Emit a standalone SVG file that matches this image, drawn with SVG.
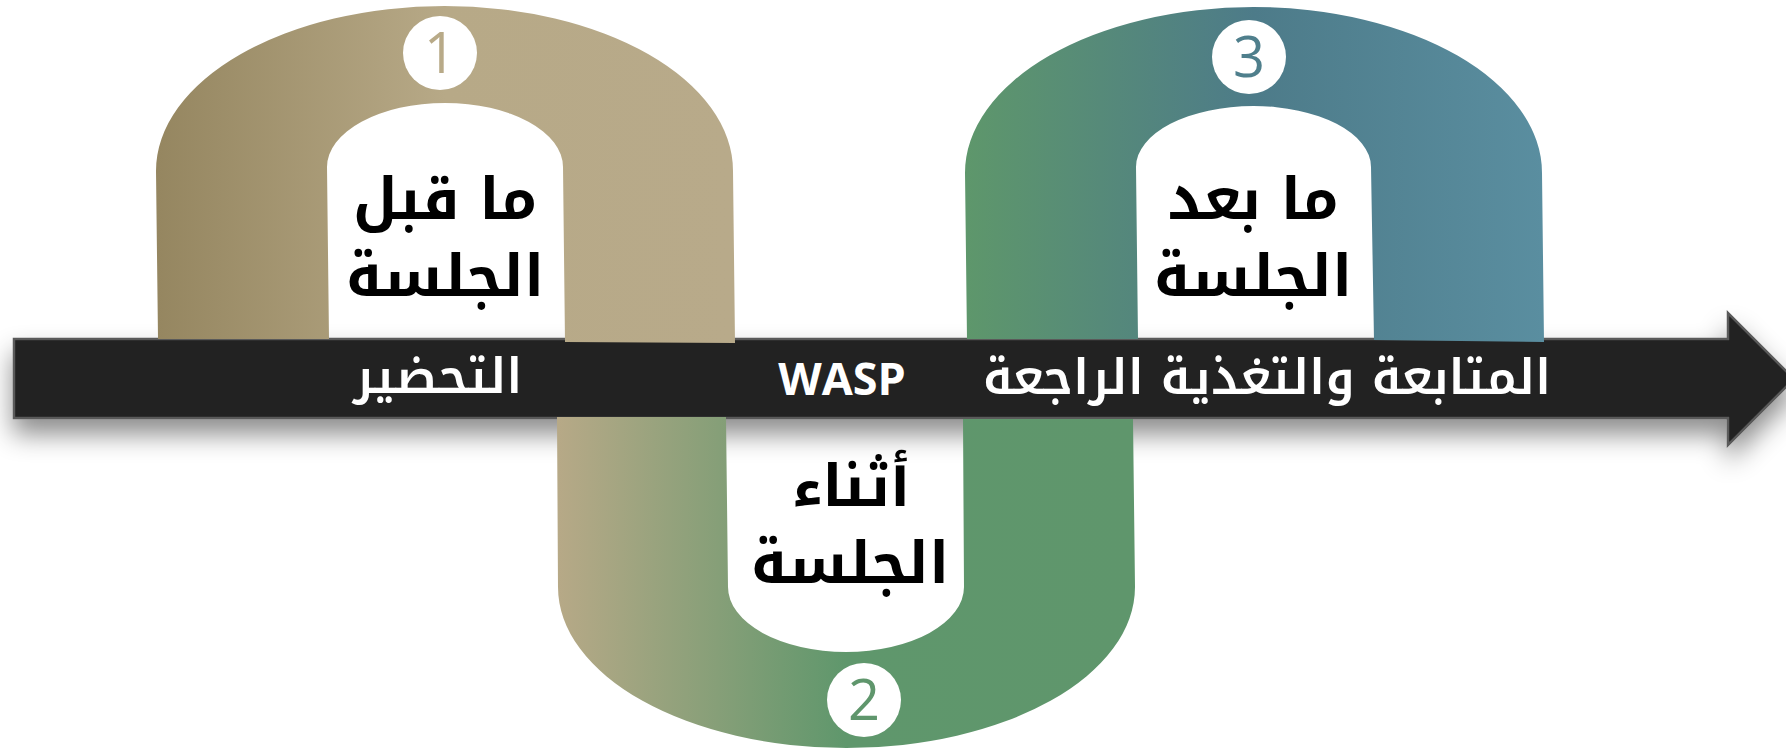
<svg xmlns="http://www.w3.org/2000/svg" width="1786" height="750" viewBox="0 0 1786 750">
  <defs>
    <filter id="shadow" x="-5%" y="-80%" width="110%" height="260%">
      <feDropShadow dx="0" dy="15" stdDeviation="13" flood-color="#000" flood-opacity="0.45"/>
    </filter>
    <linearGradient id="g1" gradientUnits="userSpaceOnUse" x1="156" y1="0" x2="735" y2="0">
      <stop offset="0" stop-color="#958660"/>
      <stop offset="0.5" stop-color="#b7a987"/>
      <stop offset="1" stop-color="#b8aa8a"/>
    </linearGradient>
    <linearGradient id="g2" gradientUnits="userSpaceOnUse" x1="557" y1="0" x2="1135" y2="0">
      <stop offset="0" stop-color="#b7a987"/>
      <stop offset="0.5" stop-color="#5f976c"/>
      <stop offset="1" stop-color="#5f966c"/>
    </linearGradient>
    <linearGradient id="g3" gradientUnits="userSpaceOnUse" x1="965" y1="0" x2="1544" y2="0">
      <stop offset="0" stop-color="#5e976b"/>
      <stop offset="0.5" stop-color="#4d7b89"/>
      <stop offset="1" stop-color="#5a8ea0"/>
    </linearGradient>
    <style>
      .lbl { font-family: "Noto Kufi Arabic", "Noto Sans Arabic", "DejaVu Sans", sans-serif; font-weight: bold; font-size: 58px; fill: #000; text-anchor: middle; }
      .bar { font-family: "Noto Kufi Arabic", "Noto Sans Arabic", "DejaVu Sans", sans-serif; font-weight: 600; font-size: 49px; fill: #fff; text-anchor: middle; }
      .num { font-family: "Open Sans", "Liberation Sans", sans-serif; font-weight: normal; font-size: 56px; text-anchor: middle; }
      .disc { fill: #fff; }
    </style>
  </defs>
  <rect width="1786" height="750" fill="#fff"/>

  <g id="connectors">
    <path d="M14,339 L1728,339 L1728,313 L1794,379 L1728,445 L1728,418 L14,418 Z" fill="#212121" stroke="#5a5a5a" stroke-width="2.5" filter="url(#shadow)"/>
    <text class="bar" x="438" y="393">التحضير</text>
    <text x="842" y="395" font-family="'Open Sans', 'Liberation Sans', sans-serif" font-weight="bold" font-size="45" fill="#fff" text-anchor="middle">WASP</text>
    <text class="bar" x="1267" y="394">المتابعة والتغذية الراجعة</text>
  </g>

  <g id="node-before">
    <path d="M158,339 L156,171 A288.5,165 0 0 1 733,171 L735,343 L565,342 L563,167 A118,64 0 0 0 327,167 L329,339 Z" fill="url(#g1)"/>
    <circle class="disc" cx="440" cy="53" r="37"/>
    <text class="num" x="440" y="73" fill="#b8aa88">1</text>
    <text class="lbl"><tspan x="445" y="219">ما قبل</tspan><tspan x="445" y="296">الجلسة</tspan></text>
  </g>

  <g id="node-during">
    <path d="M557,417 L558,587 A288.5,161 0 0 0 1135,587 L1133,419 L963,419 L964,587 A118,65 0 0 1 728,587 L726,417 Z" fill="url(#g2)"/>
    <circle class="disc" cx="864" cy="700" r="37"/>
    <text class="num" x="864" y="720" fill="#5f966c">2</text>
    <text class="lbl"><tspan x="851" y="506">أثناء</tspan><tspan x="850" y="583">الجلسة</tspan></text>
  </g>

  <g id="node-after">
    <path d="M967,339 L965,173 A288.5,166 0 0 1 1542,173 L1544,342 L1374,340 L1371,167 A117.5,61 0 0 0 1136,167 L1138,339 Z" fill="url(#g3)"/>
    <circle class="disc" cx="1249" cy="57" r="37"/>
    <text class="num" x="1249" y="77" fill="#4f7f8c">3</text>
    <text class="lbl"><tspan x="1253" y="219">ما بعد</tspan><tspan x="1253" y="296">الجلسة</tspan></text>
  </g>
</svg>
